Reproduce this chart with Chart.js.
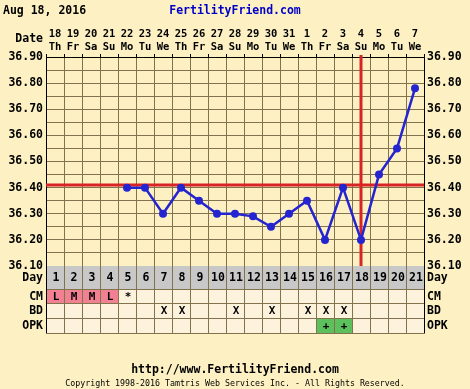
<!DOCTYPE html>
<html>
<head>
<meta charset="utf-8">
<script src="https://cdn.jsdelivr.net/npm/chart.js@4"></script>
<style>
  html, body { margin: 0; padding: 0; background: #fdf1c3; }
  canvas { display: block; }
</style>
</head>
<body>
<canvas id="bbt" width="470" height="389"></canvas>
<script>
// ========== DATA ========== //
const dates = ['18','19','20','21','22','23','24','25','26','27','28','29','30','31','1','2','3','4','5','6','7'];
const weekdays = ['Th','Fr','Sa','Su','Mo','Tu','We','Th','Fr','Sa','Su','Mo','Tu','We','Th','Fr','Sa','Su','Mo','Tu','We'];
const cycleDays = ['1','2','3','4','5','6','7','8','9','10','11','12','13','14','15','16','17','18','19','20','21'];
const temps = [null, null, null, null, 36.40, 36.40, 36.30, 36.40, 36.35, 36.30, 36.30, 36.29, 36.25, 36.30, 36.35, 36.20, 36.40, 36.20, 36.45, 36.55, 36.78];
const cmValues = ['L','M','M','L','*','','','','','','','','','','','','','','','',''];
const bdValues = ['','','','','','','X','X','','','X','','X','','X','X','X','','','',''];
const opkValues = ['','','','','','','','','','','','','','','','+','+','','','',''];
const yTicks = [36.10, 36.20, 36.30, 36.40, 36.50, 36.60, 36.70, 36.80, 36.90];
const coverline = 36.41;
const ovulationDay = 18;

// ========== STYLE ========== //
const FONT = 'DejaVu Sans Mono';
const BG = '#fdf1c3';
const GRID = '#82724e';
const ROW_BG = '#fdf3dc';
const DAY_BG = '#c8c8c8';
const RED = '#d82424';
const BLUE = '#2424d0';

function tempLabel(v) {
    const hundredths = Math.round(v * 100);
    if (hundredths % 10 !== 0) return '';
    return yTicks.includes(hundredths / 100) ? (hundredths / 100).toFixed(2) : '';
}

// ========== PLUGIN: background, lines, table, texts ========== //
const chartDecor = {
    id: 'chartDecor',
    beforeDraw(chart) {
        const ctx = chart.ctx;
        ctx.save();
        ctx.fillStyle = BG;
        ctx.fillRect(0, 0, chart.width, chart.height);
        ctx.restore();
    },
    beforeDatasetsDraw(chart) {
        const ctx = chart.ctx;
        const area = chart.chartArea;
        const x = chart.scales.x;
        const y = chart.scales.y;
        ctx.save();
        ctx.strokeStyle = RED;
        ctx.lineWidth = 3;
        // coverline
        const cy = Math.round(y.getPixelForValue(coverline));
        ctx.beginPath();
        ctx.moveTo(area.left, cy);
        ctx.lineTo(area.right, cy);
        ctx.stroke();
        // ovulation line
        const ox = Math.round(x.getPixelForValue(ovulationDay - 1));
        ctx.beginPath();
        ctx.moveTo(ox, area.top - 2);
        ctx.lineTo(ox, area.bottom);
        ctx.stroke();
        ctx.restore();
    },
    afterDraw(chart) {
        const ctx = chart.ctx;
        const area = chart.chartArea;
        const x = chart.scales.x;
        const colW = (area.right - area.left) / cycleDays.length;
        const rows = [
            { label: 'Day', top: area.bottom, bottom: area.bottom + 23, values: cycleDays },
            { label: 'CM', top: area.bottom + 23, bottom: area.bottom + 37, values: cmValues },
            { label: 'BD', top: area.bottom + 37, bottom: area.bottom + 52, values: bdValues },
            { label: 'OPK', top: area.bottom + 52, bottom: area.bottom + 67, values: opkValues }
        ];
        ctx.save();
        // row fills
        rows.forEach((r, ri) => {
            ctx.fillStyle = ri === 0 ? DAY_BG : ROW_BG;
            ctx.fillRect(area.left, r.top, area.right - area.left, r.bottom - r.top);
            r.values.forEach((v, i) => {
                const cx = x.getPixelForValue(i);
                let fill = null;
                if (ri === 1 && (v === 'L' || v === 'M')) fill = '#f08092';
                if (ri === 3 && v === '+') fill = '#5cc05c';
                if (fill) {
                    ctx.fillStyle = fill;
                    ctx.fillRect(cx - colW / 2, r.top, colW, r.bottom - r.top);
                }
            });
        });
        // grid of the table
        ctx.strokeStyle = GRID;
        ctx.lineWidth = 1;
        ctx.beginPath();
        for (let i = 0; i <= cycleDays.length; i++) {
            const gx = Math.round(area.left + i * colW) + 0.5;
            ctx.moveTo(gx, area.bottom);
            ctx.lineTo(gx, rows[3].bottom);
        }
        rows.forEach(r => {
            ctx.moveTo(area.left, r.bottom + 0.5);
            ctx.lineTo(area.right + 1, r.bottom + 0.5);
        });
        ctx.stroke();
        ctx.strokeStyle = '#000';
        ctx.beginPath();
        ctx.moveTo(area.left + 0.5, area.bottom);
        ctx.lineTo(area.left + 0.5, rows[3].bottom);
        ctx.moveTo(area.right + 0.5, area.bottom);
        ctx.lineTo(area.right + 0.5, rows[3].bottom);
        ctx.stroke();
        // cell texts
        ctx.fillStyle = '#000';
        ctx.textBaseline = 'middle';
        rows.forEach((r, ri) => {
            const midY = (r.top + r.bottom) / 2 + 1;
            ctx.font = 'bold ' + (ri === 0 ? '11.5px ' : '11px ') + FONT;
            ctx.textAlign = 'center';
            r.values.forEach((v, i) => {
                if (v) ctx.fillText(v, x.getPixelForValue(i) + 1, midY);
            });
            ctx.font = 'bold 11.5px ' + FONT;
            ctx.textAlign = 'right';
            ctx.fillText(r.label, area.left - 3, midY);
            ctx.textAlign = 'left';
            ctx.fillText(r.label, area.right + 3, midY);
        });
        // header
        ctx.font = 'bold 11.5px ' + FONT;
        ctx.textAlign = 'left';
        ctx.fillStyle = '#000';
        ctx.fillText('Aug 18, 2016', 3, 11);
        ctx.textAlign = 'right';
        ctx.fillText('Date', area.left - 3, 39);
        ctx.textAlign = 'center';
        ctx.fillStyle = '#0000c8';
        ctx.fillText('FertilityFriend.com', 235, 11);
        // footer
        ctx.fillStyle = '#000';
        ctx.font = 'bold 11.5px ' + FONT;
        ctx.fillText('http://www.FertilityFriend.com', 235, 370);
        ctx.font = '8.3px ' + FONT;
        ctx.fillText('Copyright 1998-2016 Tamtris Web Services Inc. - All Rights Reserved.', 235, 384);
        ctx.restore();
    }
};

// ========== CHART ========== //
const ctx = document.getElementById('bbt').getContext('2d');
const yTickOpts = {
    autoSkip: false,
    stepSize: 0.05,
    padding: 3,
    color: '#000',
    font: { family: FONT, size: 11.5, weight: 'bold' },
    callback: v => tempLabel(v)
};
new Chart(ctx, {
    type: 'line',
    data: {
        labels: dates.map((d, i) => [d, weekdays[i]]),
        datasets: [{
            data: temps,
            borderColor: BLUE,
            backgroundColor: BLUE,
            borderWidth: 2.5,
            pointRadius: 4,
            pointBorderWidth: 0,
            pointBackgroundColor: BLUE,
            tension: 0,
            spanGaps: false
        }]
    },
    options: {
        responsive: false,
        animation: false,
        devicePixelRatio: 1,
        layout: { padding: { top: 0, left: 0, right: 0, bottom: 123 } },
        plugins: { legend: { display: false }, tooltip: { enabled: false } },
        scales: {
            x: {
                position: 'top',
                offset: true,
                grid: { color: GRID, offset: true, tickLength: 3, tickColor: '#000' },
                border: { color: '#000' },
                ticks: {
                    autoSkip: false,
                    maxRotation: 0,
                    padding: 0,
                    color: '#000',
                    font: { family: FONT, size: 10.5, weight: 'bold', lineHeight: 1.25 }
                },
                afterFit: s => { s.height = 57; }
            },
            y: {
                min: 36.1,
                max: 36.9,
                grid: { color: GRID, drawTicks: false },
                border: { color: '#000' },
                ticks: yTickOpts,
                afterFit: s => { s.width = 46; }
            },
            y2: {
                position: 'right',
                min: 36.1,
                max: 36.9,
                grid: { drawOnChartArea: false, drawTicks: false },
                border: { color: '#000' },
                ticks: yTickOpts,
                afterFit: s => { s.width = 46; }
            }
        }
    },
    plugins: [chartDecor]
});
</script>
</body>
</html>
